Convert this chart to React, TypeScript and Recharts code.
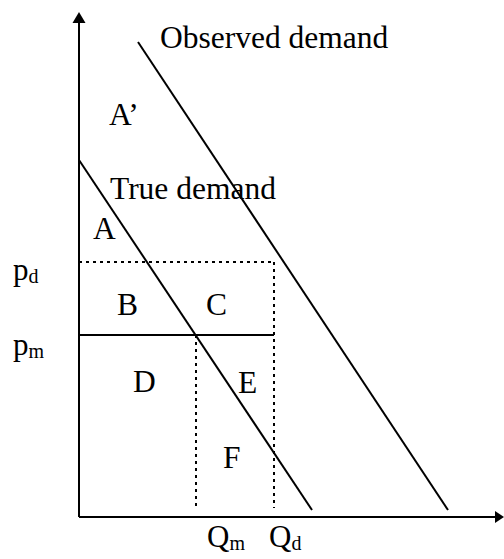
import React from 'react';
import { ComposedChart, Line, XAxis, YAxis, ReferenceDot } from 'recharts';

// Demand curves (q = quantity, p = price)
const trueDemand = [
  { q: 0, p: 357 },
  { q: 233, p: 7 },
];
const observedDemand = [
  { q: 59, p: 475 },
  { q: 369, p: 7 },
];

// Key levels
const priceD = 255;
const priceM = 182;
const qtyM = 117;
const qtyD = 195;
const floorP = 9;

const pmLine = [
  { q: 0, p: priceM },
  { q: qtyD, p: priceM },
];
const pdLine = [
  { q: 0, p: priceD },
  { q: qtyD, p: priceD },
];
const qmLine = [
  { q: qtyM, p: priceM },
  { q: qtyM, p: floorP },
];
const qdLine = [
  { q: qtyD, p: priceD },
  { q: qtyD, p: floorP },
];

const yAxisLine = [
  { q: 0, p: 0 },
  { q: 0, p: 494 },
];
const xAxisLine = [
  { q: 0, p: 0 },
  { q: 417, p: 0 },
];
const yArrowTip = { q: 0, p: 505 };
const xArrowTip = { q: 425, p: 0 };

const areaLabels = [
  { text: 'Observed demand', q: 81, p: 469 },
  { text: 'A\u2019', q: 30, p: 392 },
  { text: 'True demand', q: 31, p: 318 },
  { text: 'A', q: 14, p: 278 },
  { text: 'B', q: 38, p: 202 },
  { text: 'C', q: 127, p: 202 },
  { text: 'D', q: 54, p: 125 },
  { text: 'E', q: 159, p: 124 },
  { text: 'F', q: 144, p: 49 },
];

const axisLabels = [
  { main: 'p', sub: 'd', q: -66, p: 237 },
  { main: 'p', sub: 'm', q: -66, p: 162 },
  { main: 'Q', sub: 'm', q: 128, p: -30 },
  { main: 'Q', sub: 'd', q: 190, p: -30 },
];

const FONT = '"Liberation Serif", "Times New Roman", serif';

const upArrow = (props: any) => {
  const { cx, cy } = props;
  return (
    <polygon
      points={`${cx},${cy} ${cx - 6.5},${cy + 11} ${cx + 6.5},${cy + 11}`}
      fill="#000"
    />
  );
};

const rightArrow = (props: any) => {
  const { cx, cy } = props;
  return (
    <polygon
      points={`${cx},${cy} ${cx - 9},${cy - 6} ${cx - 9},${cy + 6}`}
      fill="#000"
    />
  );
};

const textShape = (text: string) => (props: any) => {
  const { cx, cy } = props;
  return (
    <text x={cx} y={cy} fontFamily={FONT} fontSize={31.5} fill="#000" textAnchor="start">
      {text}
    </text>
  );
};

const subShape = (main: string, sub: string) => (props: any) => {
  const { cx, cy } = props;
  return (
    <text x={cx} y={cy} fontFamily={FONT} fontSize={31} fill="#000" textAnchor="start">
      {main}
      <tspan fontSize={20} dy={3}>
        {sub}
      </tspan>
    </text>
  );
};

const lineProps = {
  dataKey: 'p',
  stroke: '#000',
  strokeWidth: 2,
  dot: false,
  activeDot: false,
  isAnimationActive: false,
  legendType: 'none' as const,
};

export default function App() {
  return (
    <div style={{ position: 'absolute', left: 0, top: 0, background: '#fff' }}>
      <ComposedChart
        width={504}
        height={559}
        margin={{ top: 0, right: 0, bottom: 0, left: 0 }}
      >
        <XAxis hide type="number" dataKey="q" domain={[-79, 425]} allowDataOverflow />
        <YAxis hide type="number" dataKey="p" domain={[-42, 517]} allowDataOverflow />

        <Line data={yAxisLine} {...lineProps} />
        <Line data={xAxisLine} {...lineProps} />

        <Line data={pdLine} {...lineProps} strokeDasharray="3 4" />
        <Line data={qdLine} {...lineProps} strokeDasharray="3 4" />
        <Line data={qmLine} {...lineProps} strokeDasharray="3 4" />
        <Line data={pmLine} {...lineProps} />

        <Line data={trueDemand} {...lineProps} />
        <Line data={observedDemand} {...lineProps} />

        <ReferenceDot x={yArrowTip.q} y={yArrowTip.p} r={0} shape={upArrow} ifOverflow="visible" />
        <ReferenceDot x={xArrowTip.q} y={xArrowTip.p} r={0} shape={rightArrow} ifOverflow="visible" />

        {areaLabels.map((l) => (
          <ReferenceDot key={l.text} x={l.q} y={l.p} r={0} shape={textShape(l.text)} ifOverflow="visible" />
        ))}
        {axisLabels.map((l) => (
          <ReferenceDot
            key={l.main + l.sub + l.q}
            x={l.q}
            y={l.p}
            r={0}
            shape={subShape(l.main, l.sub)}
            ifOverflow="visible"
          />
        ))}
      </ComposedChart>
    </div>
  );
}
